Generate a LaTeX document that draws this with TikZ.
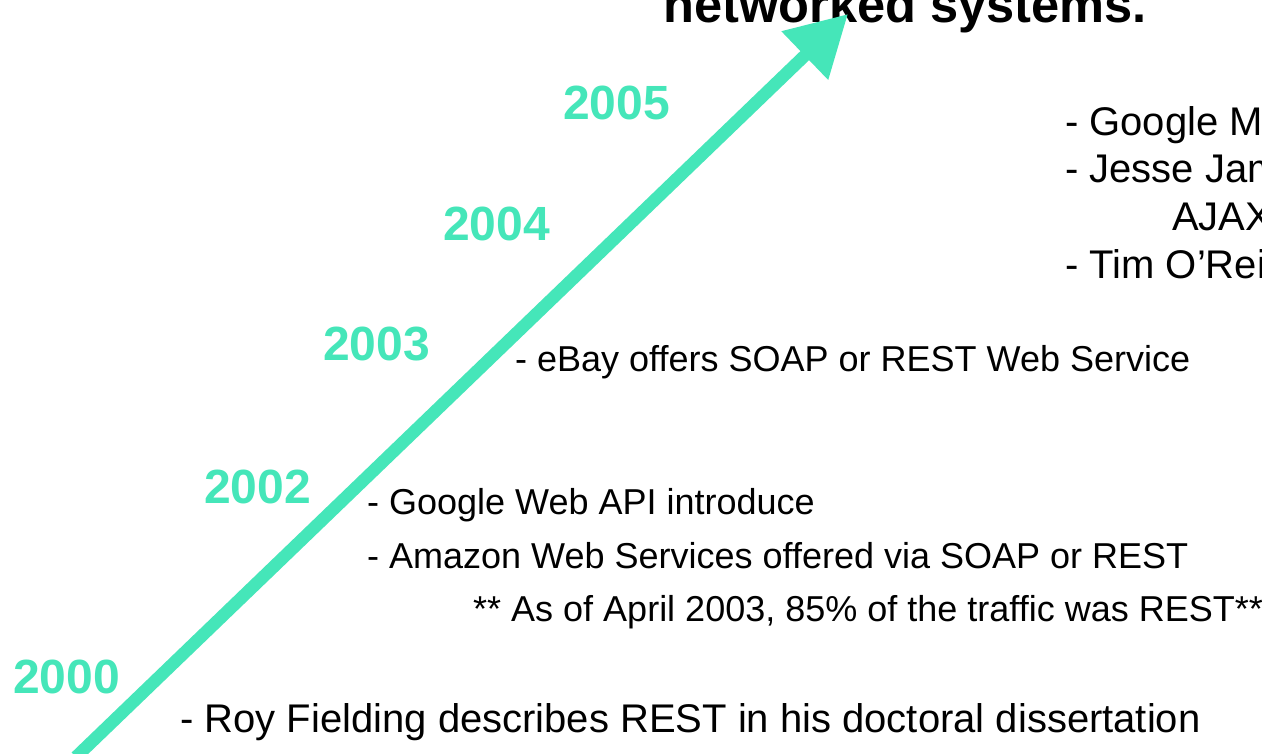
\documentclass[tikz,border=0pt]{standalone}
\usepackage{fontspec}
\setmainfont{Liberation Sans}
\usepackage{xcolor}
\usetikzlibrary{arrows.meta}
\definecolor{yeargreen}{RGB}{69,230,185}
\begin{document}
\begin{tikzpicture}[x=1pt, y=-1pt]
		\tikzstyle{every node} = [inner sep=0pt, anchor=base west]
		\tikzstyle{year} = [text=yeargreen, font=\fontsize{48}{57}\selectfont\bfseries]
		\tikzstyle{item} = [font=\fontsize{36}{43}\selectfont]
		\tikzstyle{itembig} = [font=\fontsize{40}{48}\selectfont]
		\useasboundingbox (0, 0) rectangle (1262, 753);
		\clip (0, 0) rectangle (1262, 753);
		\fill [white] (0, 0) rectangle (1262, 753);
		\node (title) [font=\fontsize{50.6}{60}\selectfont\bfseries] at (663, 22) {networked systems.};
		\coordinate (start) at (76, 757);
		\coordinate (tip) at (848, 14);
		\draw [line width = 12.5pt, color=yeargreen, -{Triangle[length=60pt, width=64pt]}] (start) -- (tip);
		\node (y2005) [year] at (563, 119) {2005};
		\node (y2004) [year] at (443, 240) {2004};
		\node (y2003) [year] at (323, 360) {2003};
		\node (y2002) [year] at (204, 503) {2002};
		\node (y2000) [year] at (13, 693) {2000};
		\node (maps) [itembig] at (1065, 135) {- Google Maps};
		\node (jesse) [itembig] at (1065, 182) {- Jesse James};
		\node (ajax) [itembig] at (1172, 230) {AJAX};
		\node (oreilly) [itembig] at (1065, 278) {- Tim O'Reilly};
		\node (ebay) [item] at (515, 371) {- eBay offers SOAP or REST Web Service};
		\node (gapi) [item] at (367, 514) {- Google Web API introduce};
		\node (amazon) [item] at (367, 568) {- Amazon Web Services offered via SOAP or REST};
		\node (traffic) [item] at (473, 621) {** As of April 2003, 85\% of the traffic was REST**};
		\node (fielding) [itembig] at (180, 732) {- Roy Fielding describes REST in his doctoral dissertation};
	\end{tikzpicture}
\end{document}
